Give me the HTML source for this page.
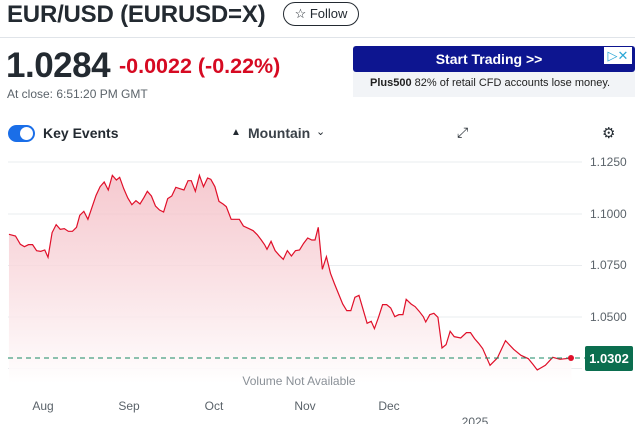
<!DOCTYPE html>
<html><head><style>
body{margin:0;width:635px;height:424px;overflow:hidden;background:#fff;font-family:"Liberation Sans",sans-serif;position:relative;color:#232a31}
.a{position:absolute;white-space:nowrap}
</style></head><body>
<div class="a" style="left:7px;top:1px;font-size:24px;font-weight:bold;letter-spacing:-0.2px">EUR/USD (EURUSD=X)</div>
<div class="a" style="left:283px;top:2px;width:74px;height:22px;border:1px solid #232a31;border-radius:12px;font-size:13px;line-height:22px;text-align:center">☆ Follow</div>
<div class="a" style="left:0;top:37px;width:635px;height:1px;background:#e0e4e9"></div>
<div class="a" style="left:6px;top:46px;font-size:35px;font-weight:bold;letter-spacing:-0.5px">1.0284</div>
<div class="a" style="left:119px;top:54px;font-size:21.5px;font-weight:bold;color:#d60a22">-0.0022 (-0.22%)</div>
<div class="a" style="left:7px;top:87px;font-size:12px;color:#5b636a">At close: 6:51:20 PM GMT</div>
<div class="a" style="left:353px;top:46px;width:282px;height:51px;background:#f2f4f7"></div>
<div class="a" style="left:353px;top:46px;width:282px;height:26px;background:#0d1590;border-radius:3px;color:#fff;font-weight:bold;font-size:14px;line-height:26px;text-align:center;box-sizing:border-box;padding-right:10px">Start Trading &gt;&gt;</div>
<div class="a" style="left:604px;top:47px;width:28px;height:17px;background:#fff;color:#2aa7d6;font-size:13px;line-height:17px;text-align:center">▷✕</div>
<div class="a" style="left:370px;top:77px;font-size:11px;color:#222"><b>Plus500</b> 82% of retail CFD accounts lose money.</div>
<div class="a" style="left:8px;top:125px;width:27px;height:17px;border-radius:9px;background:#1a6ee8"></div>
<div class="a" style="left:20px;top:127px;width:13px;height:13px;border-radius:7px;background:#fff"></div>
<div class="a" style="left:43px;top:125px;font-size:14px;font-weight:bold">Key Events</div>
<div class="a" style="left:231px;top:127px;font-size:10px">▲</div>
<div class="a" style="left:248px;top:125px;font-size:14px;font-weight:bold;color:#3a4148">Mountain</div>
<div class="a" style="left:316px;top:125px;font-size:11px">⌄</div>
<div class="a" style="left:457px;top:124px;font-size:14px">⤢</div>
<div class="a" style="left:602px;top:124px;font-size:15px">⚙</div>
<svg class="a" style="left:0;top:0" width="635" height="424">
<defs><linearGradient id="g" x1="0" y1="0" x2="0" y2="1"><stop offset="0" stop-color="#f3b8c0" stop-opacity="0.75"/><stop offset="1" stop-color="#fff" stop-opacity="0.9"/></linearGradient></defs>
<g stroke="#e9ecef" stroke-width="1">
<line x1="8" x2="582" y1="162" y2="162"/><line x1="8" x2="582" y1="214" y2="214"/><line x1="8" x2="582" y1="265.5" y2="265.5"/><line x1="8" x2="582" y1="317" y2="317"/><line x1="8" x2="582" y1="368.5" y2="368.5"/></g>
<g font-size="12" fill="#5b636a"><text x="590" y="166">1.1250</text><text x="590" y="218">1.1000</text><text x="590" y="269">1.0750</text><text x="590" y="321">1.0500</text></g>
<g transform="translate(0,150) scale(0.407,0.3333)">
<path fill="url(#g)" d="M22,253 L38,258 50,283 60,290 70,284 80,284 90,302 100,304 110,300 118,322 128,248 138,224 148,238 158,236 168,244 178,244 188,232 196,196 206,184 216,208 226,172 236,136 246,110 256,96 266,120 276,76 286,90 294,82 304,116 314,144 324,164 334,152 344,162 354,142 362,124 372,138 382,168 392,180 402,186 412,146 422,138 432,112 442,116 452,120 462,92 470,92 480,124 490,76 500,110 510,84 518,88 528,110 538,154 548,162 556,170 568,208 588,208 598,228 612,236 622,242 632,254 642,270 650,284 656,298 666,274 676,302 686,316 696,328 706,302 716,318 726,302 736,300 746,280 756,264 766,270 774,270 782,232 792,358 802,320 812,370 822,402 832,432 842,462 852,482 862,482 872,442 882,436 892,478 902,520 912,514 920,536 930,502 940,464 950,464 960,474 970,500 980,494 990,494 998,448 1010,462 1020,470 1030,484 1040,500 1046,516 1056,494 1066,490 1076,502 1086,594 1096,584 1106,544 1116,560 1132,564 1146,548 1156,548 1166,566 1176,580 1186,596 1204,646 1222,624 1242,572 1262,598 1280,616 1298,626 1310,644 1320,660 1340,646 1358,622 1376,628 1404,624 L1404,700 L22,700 Z"/>
<path fill="none" stroke="#e0102a" stroke-width="1.2" vector-effect="non-scaling-stroke" d="M22,253 L38,258 50,283 60,290 70,284 80,284 90,302 100,304 110,300 118,322 128,248 138,224 148,238 158,236 168,244 178,244 188,232 196,196 206,184 216,208 226,172 236,136 246,110 256,96 266,120 276,76 286,90 294,82 304,116 314,144 324,164 334,152 344,162 354,142 362,124 372,138 382,168 392,180 402,186 412,146 422,138 432,112 442,116 452,120 462,92 470,92 480,124 490,76 500,110 510,84 518,88 528,110 538,154 548,162 556,170 568,208 588,208 598,228 612,236 622,242 632,254 642,270 650,284 656,298 666,274 676,302 686,316 696,328 706,302 716,318 726,302 736,300 746,280 756,264 766,270 774,270 782,232 792,358 802,320 812,370 822,402 832,432 842,462 852,482 862,482 872,442 882,436 892,478 902,520 912,514 920,536 930,502 940,464 950,464 960,474 970,500 980,494 990,494 998,448 1010,462 1020,470 1030,484 1040,500 1046,516 1056,494 1066,490 1076,502 1086,594 1096,584 1106,544 1116,560 1132,564 1146,548 1156,548 1166,566 1176,580 1186,596 1204,646 1222,624 1242,572 1262,598 1280,616 1298,626 1310,644 1320,660 1340,646 1358,622 1376,628 1404,624"/>
</g>
<line x1="8" x2="585" y1="358" y2="358" stroke="#1a8a64" stroke-width="1" stroke-dasharray="5,4"/>
<circle cx="571" cy="358" r="3" fill="#e0102a"/>
<rect x="585" y="346" width="48" height="25" rx="2" fill="#0b6e4f"/>
<text x="609" y="363" font-size="13" font-weight="bold" fill="#fff" text-anchor="middle">1.0302</text>
<text x="299" y="385" font-size="12" fill="#8a9097" text-anchor="middle">Volume Not Available</text>
<g font-size="12" fill="#5b636a" text-anchor="middle"><text x="43" y="410">Aug</text><text x="129" y="410">Sep</text><text x="214" y="410">Oct</text><text x="305" y="410">Nov</text><text x="389" y="410">Dec</text><text x="475" y="426">2025</text></g>
</svg>
</body></html>
